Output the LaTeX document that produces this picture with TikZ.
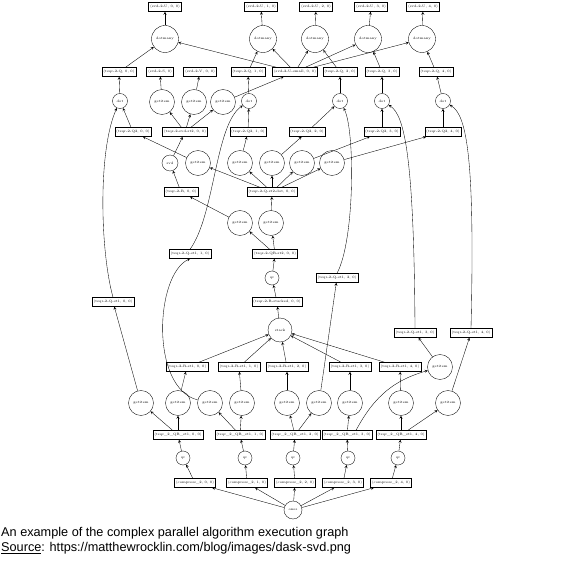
\documentclass[tikz,border=0pt]{standalone}
\usepackage{fontspec}
\newfontfamily\capfont{Liberation Sans}
\begin{document}
\begin{tikzpicture}[x=1pt,y=-1pt,
    box/.style={draw,line width=0.4pt,inner sep=1.5pt,minimum height=9pt,font=\fontsize{3.4}{4}\selectfont},
    fn/.style={draw,circle,line width=0.35pt,inner sep=0pt,font=\fontsize{3.4}{4}\selectfont},
    item/.style={fn,minimum size=25pt},
    many/.style={fn,minimum size=27pt},
    tiny/.style={fn,minimum size=15pt},
    link/.style={->,>=stealth,line width=0.35pt}]
    \useasboundingbox (0,0) rectangle (581,561);

    % outputs U
    \node[box] (u0) at (165,7) {(svd-2-U, 0, 0)};
    \node[box] (u1) at (261,7) {(svd-2-U, 1, 0)};
    \node[box] (u2) at (316,7) {(svd-2-U, 2, 0)};
    \node[box] (u3) at (371,7) {(svd-2-U, 3, 0)};
    \node[box] (u4) at (423,7) {(svd-2-U, 4, 0)};

    \node[many] (dm0) at (165,39) {dotmany};
    \node[many] (dm1) at (263,39) {dotmany};
    \node[many] (dm2) at (315,39) {dotmany};
    \node[many] (dm3) at (368,39) {dotmany};
    \node[many] (dm4) at (422,39) {dotmany};

    \node[box] (q0) at (119,72) {(tsqr-2-Q, 0, 0)};
    \node[box] (s) at (160,72) {(svd-2-S, 0)};
    \node[box] (v) at (200,72) {(svd-2-V, 0, 0)};
    \node[box] (q1) at (248,72) {(tsqr-2-Q, 1, 0)};
    \node[box] (us) at (295,72) {(svd-2-U-small, 0, 0)};
    \node[box] (q2) at (340,72) {(tsqr-2-Q, 2, 0)};
    \node[box] (q3) at (382,72) {(tsqr-2-Q, 3, 0)};
    \node[box] (q4) at (436,72) {(tsqr-2-Q, 4, 0)};

    \node[tiny] (d0) at (120,101) {dot};
    \node[item] (gs) at (162,102) {getitem};
    \node[item] (gv) at (194,102) {getitem};
    \node[item] (gu) at (223,102) {getitem};
    \node[tiny] (d1) at (249,101) {dot};
    \node[tiny] (d2) at (340,101) {dot};
    \node[tiny] (d3) at (382,101) {dot};
    \node[tiny] (d4) at (443,101) {dot};

    \node[box] (a0) at (133,132) {(tsqr-2-Q2, 0, 0)};
    \node[box] (sv) at (185,132) {(tsqr-2-svd-st2, 0, 0)};
    \node[box] (a1) at (248,132) {(tsqr-2-Q2, 1, 0)};
    \node[box] (a2) at (307,132) {(tsqr-2-Q2, 2, 0)};
    \node[box] (a3) at (382,132) {(tsqr-2-Q2, 3, 0)};
    \node[box] (a4) at (443,132) {(tsqr-2-Q2, 4, 0)};

    \node[tiny,minimum size=16pt] (svd) at (170,163) {svd};
    \node[item] (h0) at (198,163) {getitem};
    \node[item] (h1) at (240,163) {getitem};
    \node[item] (h2) at (272,163) {getitem};
    \node[item] (h3) at (302,163) {getitem};
    \node[item] (h4) at (332,163) {getitem};

    \node[box] (r) at (181,192) {(tsqr-2-R, 0, 0)};
    \node[box] (qs2) at (272,192) {(tsqr-2-Q-st2-dot, 0, 0)};

    \node[item] (k0) at (240,223) {getitem};
    \node[item] (k1) at (271,223) {getitem};

    \node[box] (qb) at (190,254) {(tsqr-2-Q-st1, 1, 0)};
    \node[box] (qr2) at (275,254) {(tsqr-2-QR-st2, 0, 0)};
    \node[tiny,minimum size=14pt] (qrc) at (272,278) {qr};
    \node[box] (qc) at (337,278) {(tsqr-2-Q-st1, 2, 0)};
    \node[box] (qa) at (113,302) {(tsqr-2-Q-st1, 0, 0)};
    \node[box] (rst) at (277,302) {(tsqr-2-R-stacked, 0, 0)};
    \node[fn,minimum size=24pt] (stack) at (280,330) {stack};
    \node[box] (qd) at (415,333) {(tsqr-2-Q-st1, 3, 0)};
    \node[box] (qe) at (471,333) {(tsqr-2-Q-st1, 4, 0)};

    \node[box] (r0) at (187,367) {(tsqr-2-R-st1, 0, 0)};
    \node[box] (r1) at (239,367) {(tsqr-2-R-st1, 1, 0)};
    \node[box] (r2) at (287,367) {(tsqr-2-R-st1, 2, 0)};
    \node[box] (r3) at (350,367) {(tsqr-2-R-st1, 3, 0)};
    \node[box] (r4) at (400,367) {(tsqr-2-R-st1, 4, 0)};
    \node[item] (gr) at (440,367) {getitem};

    \node[item] (g0) at (141,403) {getitem};
    \node[item] (g1) at (178,403) {getitem};
    \node[item] (g2) at (210,403) {getitem};
    \node[item] (g3) at (242,403) {getitem};
    \node[item] (g4) at (287,403) {getitem};
    \node[item] (g5) at (319,403) {getitem};
    \node[item] (g6) at (350,403) {getitem};
    \node[item] (g7) at (401,403) {getitem};
    \node[item] (g8) at (448,403) {getitem};

    \node[box] (b0) at (178,435) {(tsqr\_2\_QR\_st1, 0, 0)};
    \node[box] (b1) at (240,435) {(tsqr\_2\_QR\_st1, 1, 0)};
    \node[box] (b2) at (295,435) {(tsqr\_2\_QR\_st1, 2, 0)};
    \node[box] (b3) at (347,435) {(tsqr\_2\_QR\_st1, 3, 0)};
    \node[box] (b4) at (401,435) {(tsqr\_2\_QR\_st1, 4, 0)};

    \node[tiny,minimum size=14pt] (p0) at (183,458) {qr};
    \node[tiny,minimum size=14pt] (p1) at (245,458) {qr};
    \node[tiny,minimum size=14pt] (p2) at (293,458) {qr};
    \node[tiny,minimum size=14pt] (p3) at (348,458) {qr};
    \node[tiny,minimum size=14pt] (p4) at (398,458) {qr};

    \node[box] (c0) at (195,483) {(compress\_2, 0, 0)};
    \node[box] (c1) at (247,483) {(compress\_2, 1, 0)};
    \node[box] (c2) at (295,483) {(compress\_2, 2, 0)};
    \node[box] (c3) at (343,483) {(compress\_2, 3, 0)};
    \node[box] (c4) at (391,483) {(compress\_2, 4, 0)};

    \node[tiny,minimum size=18pt] (x) at (293,510) {ones};

    % bottom part
    \draw[link] (x) -- (c0);
    \draw[link] (x) -- (c1);
    \draw[link] (x) -- (c2);
    \draw[link] (x) -- (c3);
    \draw[link] (x) -- (c4);
    \draw[link] (c0) -- (p0);
    \draw[link] (c1) -- (p1);
    \draw[link] (c2) -- (p2);
    \draw[link] (c3) -- (p3);
    \draw[link] (c4) -- (p4);
    \draw[link] (p0) -- (b0);
    \draw[link] (p1) -- (b1);
    \draw[link] (p2) -- (b2);
    \draw[link] (p3) -- (b3);
    \draw[link] (p4) -- (b4);
    \draw[link] (b0) -- (g0);
    \draw[link] (b0) -- (g1);
    \draw[link] (b1) -- (g2);
    \draw[link] (b1) -- (g3);
    \draw[link] (b2) -- (g4);
    \draw[link] (b2) -- (g5);
    \draw[link] (b3) -- (g6);
    \draw[link] ([xshift=9pt]b3.north) .. controls (375,395) and (395,380) .. (gr);
    \draw[link] (b4) -- (g7);
    \draw[link] (b4) -- (g8);

    % first stage
    \draw[link] (g0) -- (qa);
    \draw[link] (g1) -- (r0);
    \draw[link] (g2) .. controls (150,388) and (155,275) .. (qb.south);
    \draw[link] (g3) -- (r1);
    \draw[link] (g4) -- (r2);
    \draw[link] (g5) -- (qc);
    \draw[link] (g6) -- (r3);
    \draw[link] (g7) -- (r4);
    \draw[link] (g8) -- (qe);
    \draw[link] (gr) -- (qd);
    \draw[link] (r0) -- (stack);
    \draw[link] (r1) -- (stack);
    \draw[link] (r2) -- (stack);
    \draw[link] (r3) -- (stack);
    \draw[link] (r4) -- (stack);

    % second stage
    \draw[link] (stack) -- (rst);
    \draw[link] (rst) -- (qrc);
    \draw[link] (qrc) -- (qr2);
    \draw[link] (qr2) -- (k0);
    \draw[link] (qr2) -- (k1);
    \draw[link] (k0) -- (r);
    \draw[link] (k1) -- (qs2);
    \draw[link] (r) -- (svd);
    \draw[link] (qs2) -- (h0);
    \draw[link] (qs2) -- (h1);
    \draw[link] (qs2) -- (h2);
    \draw[link] (qs2) -- (h3);
    \draw[link] (qs2) -- (h4);
    \draw[link] (svd) -- (sv);
    \draw[link] (h0) -- (a0);
    \draw[link] (h1) -- (a1);
    \draw[link] (h2) -- (a2);
    \draw[link] (h3) -- (a3);
    \draw[link] (h4) -- (a4);
    \draw[link] (sv) -- (gs);
    \draw[link] (sv) -- (gv);
    \draw[link] (sv) -- (gu);

    % dot products
    \draw[link] (a0) -- (d0);
    \draw[link] (qa.north) .. controls (100,250) and (98,150) .. (d0);
    \draw[link] (a1) -- (d1);
    \draw[link] (qb.north) .. controls (215,215) and (215,125) .. (d1);
    \draw[link] (a2) -- (d2);
    \draw[link] (qc.north) .. controls (355,240) and (355,130) .. (d2);
    \draw[link] (a3) -- (d3);
    \draw[link] (qd.north) .. controls (414,160) and (405,115) .. (d3);
    \draw[link] (a4) -- (d4);
    \draw[link] (qe.north) .. controls (475,160) and (467,115) .. (d4);
    \draw[link] (d0) -- (q0);
    \draw[link] (gs) -- (s);
    \draw[link] (gv) -- (v);
    \draw[link] (gu) -- (us);
    \draw[link] (d1) -- (q1);
    \draw[link] (d2) -- (q2);
    \draw[link] (d3) -- (q3);
    \draw[link] (d4) -- (q4);

    % top
    \draw[link] (q0) -- (dm0);
    \draw[link] (us) -- (dm0);
    \draw[link] (q1) -- (dm1);
    \draw[link] (us) -- (dm1);
    \draw[link] (us) -- (dm2);
    \draw[link] (q2) -- (dm2);
    \draw[link] (us) -- (dm3);
    \draw[link] (q3) -- (dm3);
    \draw[link] (us) -- (dm4);
    \draw[link] (q4) -- (dm4);
    \draw[link] (dm0) -- (u0);
    \draw[link] (dm1) -- (u1);
    \draw[link] (dm2) -- (u2);
    \draw[link] (dm3) -- (u3);
    \draw[link] (dm4) -- (u4);

    % caption
    \node[anchor=west,inner sep=0pt,font=\capfont\fontsize{12.7}{14}\selectfont] (cap1) at (1,533) {An example of the complex parallel algorithm execution graph};
    \node[anchor=west,inner sep=0pt,font=\capfont\fontsize{12.7}{14}\selectfont] (cap2) at (1,548) {\underline{Source}: https://matthewrocklin.com/blog/images/dask-svd.png};
\end{tikzpicture}
\end{document}
